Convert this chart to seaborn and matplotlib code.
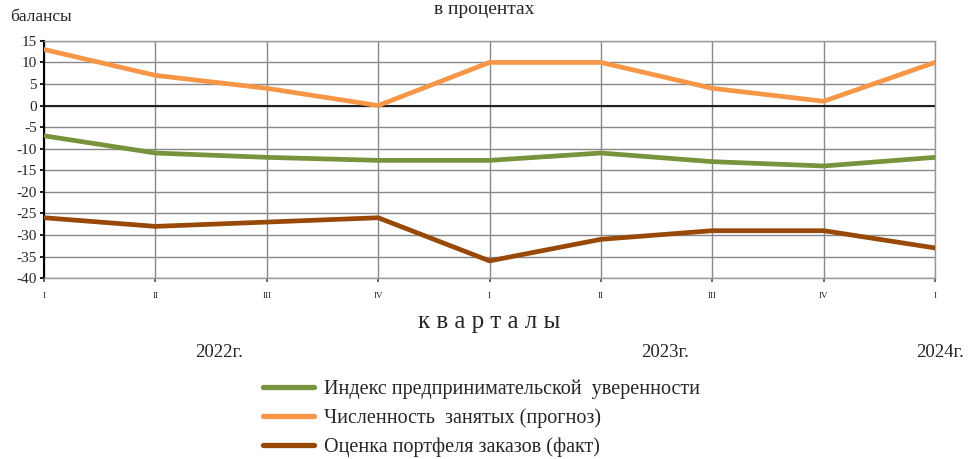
import matplotlib
matplotlib.use("Agg")
import matplotlib.pyplot as plt
import seaborn as sns
import pandas as pd
from matplotlib.lines import Line2D

quarters = ["I", "II", "III", "IV", "I", "II", "III", "IV", "I"]
confidence = [-7, -11, -12, -12.7, -12.7, -11, -13, -14, -12]
employment = [13, 7, 4, 0, 10, 10, 4, 1, 10]
orders = [-26, -28, -27, -26, -36, -31, -29, -29, -33]

series_names = [
    "Индекс предпринимательской  уверенности",
    "Численность  занятых (прогноз)",
    "Оценка портфеля заказов (факт)",
]
colors = ["#77933C", "#F79646", "#984807"]
years = ["2022г.", "2023г.", "2024г."]

sns.set_theme(style="white")
plt.rcParams["font.family"] = ["Liberation Serif", "DejaVu Serif"]
plt.rcParams["axes.unicode_minus"] = False

rows = []
for name, vals in zip(series_names, [confidence, employment, orders]):
    for i, v in enumerate(vals):
        rows.append({"pos": i, "value": v, "series": name})
df = pd.DataFrame(rows)

fig = plt.figure(figsize=(9.68, 4.59), dpi=100)
ax = fig.add_axes([0.0455, 0.394, 0.9205, 0.517])

sns.lineplot(data=df, x="pos", y="value", hue="series", hue_order=series_names,
             palette=colors, linewidth=3.4, ax=ax, legend=False, zorder=3)

ax.set_xlim(0, len(quarters) - 1)
ax.set_ylim(-40, 15)
ax.set_yticks(range(-40, 16, 5))
ax.set_xticks(range(len(quarters)))
ax.set_xticklabels(quarters, fontsize=6.5)
ax.tick_params(axis="y", labelsize=11, length=3, color="black", pad=2, left=True)
ax.tick_params(axis="x", length=3, pad=7, bottom=True, color="#555555")
ax.set_xlabel("")
ax.set_ylabel("")

ax.grid(True, color="#888888", linewidth=1.0, zorder=0)
ax.axhline(0, color="#222222", linewidth=1.5, zorder=1)
for side in ["top", "right", "bottom"]:
    ax.spines[side].set_color("#999999")
    ax.spines[side].set_linewidth(1.0)
ax.spines["left"].set_color("black")
ax.spines["left"].set_linewidth(1.5)

fig.text(0.5, 0.997, "в процентах", ha="center", va="top", fontsize=14)
fig.text(0.010, 0.962, "балансы", ha="left", va="center", fontsize=12.5)
fig.text(0.505, 0.298, "к в а р т а л ы", ha="center", va="center", fontsize=18)
for xp, yr in zip([0.226, 0.687, 0.971], years):
    fig.text(xp, 0.232, yr, ha="center", va="center", fontsize=13.5)

handles = [Line2D([], [], color=c, linewidth=3.8) for c in colors]
fig.legend(handles, series_names, loc="upper left", bbox_to_anchor=(0.272, 0.173),
           frameon=False, fontsize=14.5, handlelength=2.5, handletextpad=0.5,
           labelspacing=0.45, borderaxespad=0, borderpad=0)

fig.savefig("out.png", dpi=100)
